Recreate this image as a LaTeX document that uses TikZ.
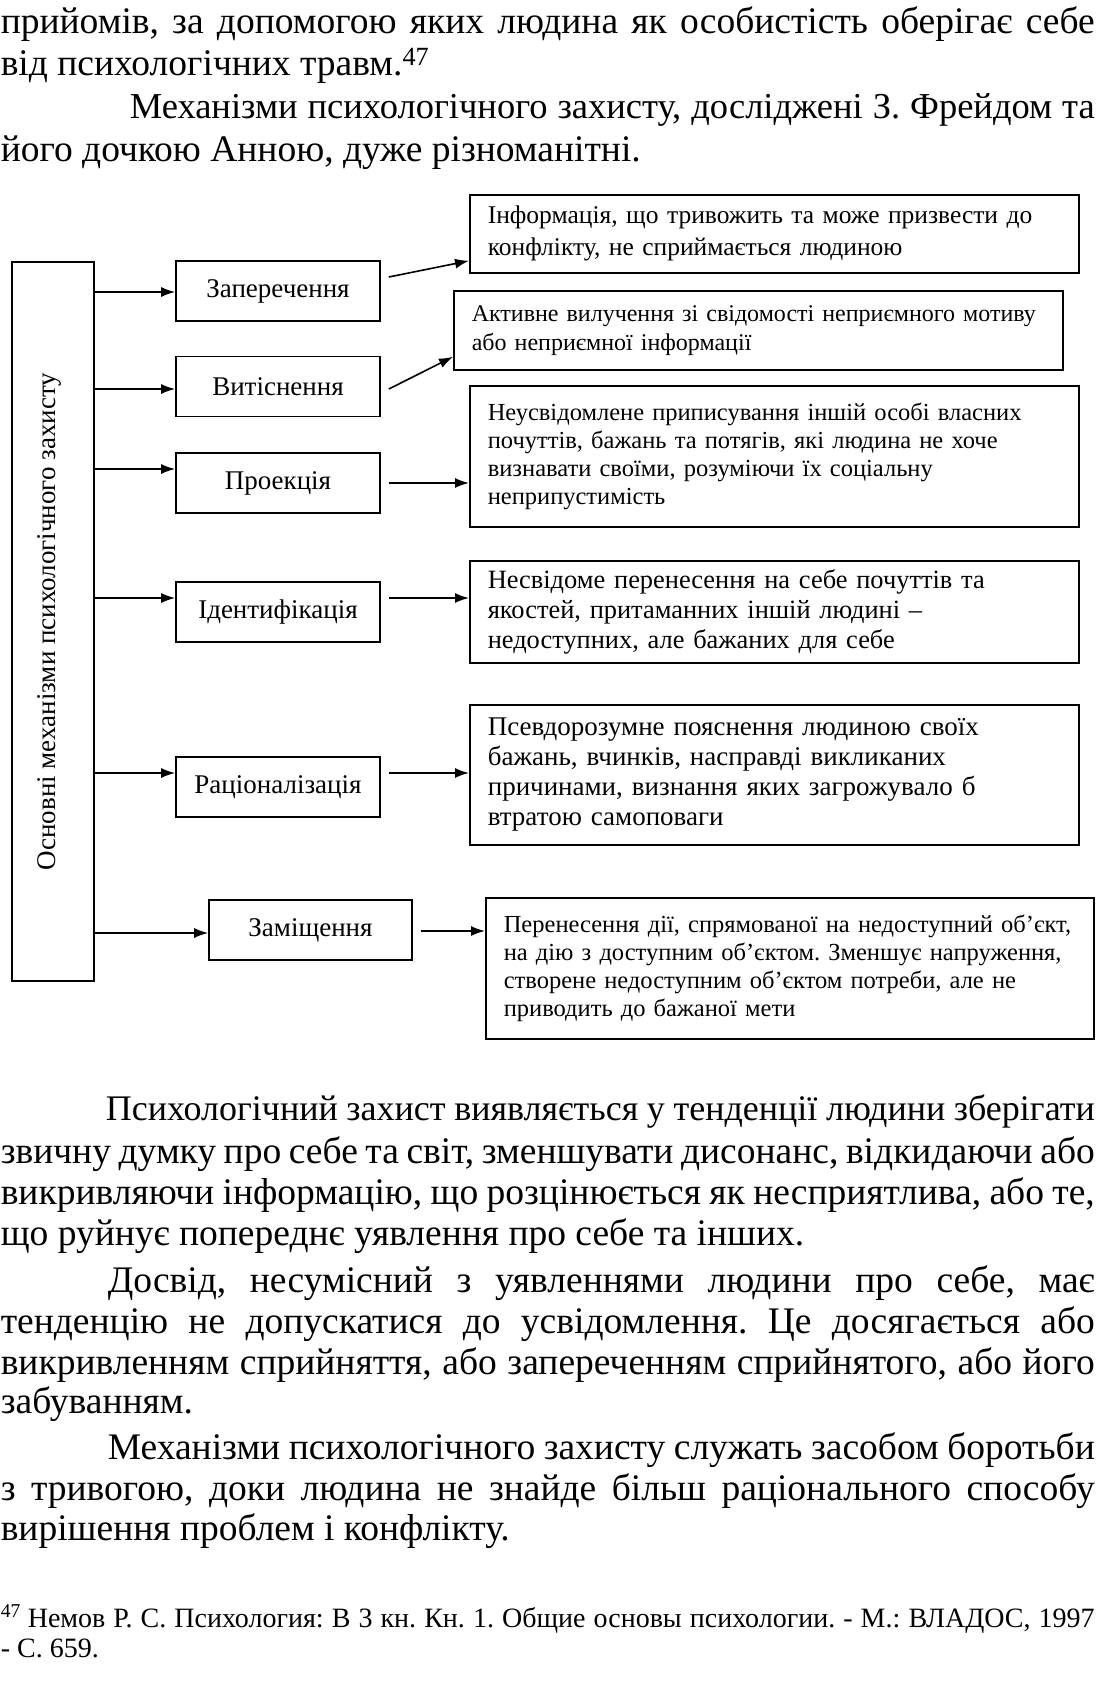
\documentclass[tikz,border=0pt]{standalone}
\usepackage{fontspec}
\setmainfont{Liberation Serif}
\usetikzlibrary{arrows.meta,positioning}
\frenchspacing

\begin{document}
\begin{tikzpicture}[x=1pt,y=-1pt,line width=1.6pt,
    ln/.style={anchor=base west,inner sep=0pt,font=\fontsize{37.5}{41.5}\selectfont},
    mech/.style={draw,minimum width=204pt,minimum height=60pt,inner sep=0pt,font=\fontsize{27}{32}\selectfont},
    desc/.style={draw,anchor=north west,align=left,inner xsep=18pt,inner ysep=0pt,minimum height=#1},
    arr/.style={-{Latex[length=14pt,width=10pt]}}]
    \useasboundingbox (0,0) rectangle (1096,1690);
    \node[ln] (t1) at (0,33) {\makebox[1094pt][s]{прийомів, за допомогою яких людина як особистість оберігає себе}};
    \node[ln] (t2) at (0,75) {від психологічних травм.\textsuperscript{47}};
    \node[ln,font=\fontsize{36.5}{41.5}\selectfont] (t3) at (129,118) {\makebox[965pt][s]{Механізми психологічного захисту, досліджені З. Фрейдом та}};
    \node[ln] (t4) at (0,161) {його дочкою Анною, дуже різноманітні.};

    \node[draw,minimum width=82pt,minimum height=719pt] (lb) at (53,621.5) {};
    \node[rotate=90,font=\fontsize{27}{32}\selectfont] (lbt) at ([xshift=-4pt]lb.center) {Основні механізми психологічного захисту};

    \node[mech] (m1) at (278,291) {Заперечення};
    \node[mech] (m2) at (278,386.5) {Витіснення};
    \node[mech] (m3) at (278,483) {Проекція};
    \node[mech] (m4) at (278,612) {Ідентифікація};
    \node[mech] (m5) at (278,787) {Раціоналізація};
    \node[mech,minimum width=203pt] (m6) at (310.5,930) {Заміщення};

    \node[desc=78pt,text width=573pt,font=\fontsize{25.5}{32}\selectfont] (d1) at (469,194)
      {Інформація, що тривожить та може призвести до\\конфлікту, не сприймається людиною};
    \node[desc=79pt,text width=573pt,font=\fontsize{24}{29}\selectfont] (d2) at (453,290)
      {Активне вилучення зі свідомості неприємного мотиву\\або неприємної інформації};
    \node[desc=141pt,text width=573pt,font=\fontsize{24.5}{28}\selectfont] (d3) at (469,385)
      {Неусвідомлене приписування іншій особі власних\\почуттів, бажань та потягів, які людина не хоче\\визнавати своїми, розуміючи їх соціальну\\неприпустимість};
    \node[desc=102pt,text width=573pt,font=\fontsize{26.4}{30}\selectfont] (d4) at (469,560)
      {Несвідоме перенесення на себе почуттів та\\якостей, притаманних іншій людині –\\недоступних, але бажаних для себе};
    \node[desc=140pt,text width=573pt,font=\fontsize{27}{30}\selectfont] (d5) at (469,704)
      {Псевдорозумне пояснення людиною своїх\\бажань, вчинків, насправді викликаних\\причинами, визнання яких загрожувало б\\втратою самоповаги};
    \node[desc=141pt,text width=572pt,font=\fontsize{24.5}{28}\selectfont] (d6) at (485,897)
      {Перенесення дії, спрямованої на недоступний об’єкт,\\на дію з доступним об’єктом. Зменшує напруження,\\створене недоступним об’єктом потреби, але не\\приводить до бажаної мети};

    \foreach \m/\k in {m1/292,m2/389,m3/469,m4/598,m5/773,m6/933}
      \draw[arr] (lb.east |- 0,\k) -- (\m.west |- 0,\k);
    \draw[arr] ([shift={(8,-14)}]m1.east) -- ([shift={(0,27)}]d1.west);
    \draw[arr] ([shift={(8,2.5)}]m2.east) -- ([shift={(0,26.5)}]d2.west);
    \foreach \m/\d/\k in {m3/d3/483,m4/d4/598,m5/d5/773,m6/d6/931}
      \draw[arr] (\m.east |- 0,\k) ++(8,0) -- (\d.west |- 0,\k);

    \node[ln,font=\fontsize{36}{41.5}\selectfont] (b1) at (105,1120) {\makebox[989pt][s]{Психологічний захист виявляється у тенденції людини зберігати}};
    \node[ln] (b2) at (0,1163) {\makebox[1094pt][s]{звичну думку про себе та світ, зменшувати дисонанс, відкидаючи або}};
    \node[ln] (b3) at (0,1204) {\makebox[1094pt][s]{викривляючи інформацію, що розцінюється як несприятлива, або те,}};
    \node[ln] (b4) at (0,1245) {що руйнує попереднє уявлення про себе та інших.};
    \node[ln] (b5) at (107,1292) {\makebox[987pt][s]{Досвід, несумісний з уявленнями людини про себе, має}};
    \node[ln] (b6) at (0,1333) {\makebox[1094pt][s]{тенденцію не допускатися до усвідомлення. Це досягається або}};
    \node[ln] (b7) at (0,1374) {\makebox[1094pt][s]{викривленням сприйняття, або запереченням сприйнятого, або його}};
    \node[ln] (b8) at (0,1413) {забуванням.};
    \node[ln] (b9) at (107,1459) {\makebox[987pt][s]{Механізми психологічного захисту служать засобом боротьби}};
    \node[ln] (b10) at (0,1500) {\makebox[1094pt][s]{з тривогою, доки людина не знайде більш раціонального способу}};
    \node[ln] (b11) at (0,1540) {вирішення проблем і конфлікту.};

    \node[ln,font=\fontsize{28}{32}\selectfont] (fn) at (0,1627) {\textsuperscript{47}};
    \node[ln,font=\fontsize{28}{32}\selectfont] (f1) at (27,1627) {\makebox[1067pt][s]{Немов Р. С. Психология: В 3 кн. Кн. 1. Общие основы психологии. - М.: ВЛАДОС, 1997}};
    \node[ln,font=\fontsize{28}{32}\selectfont] (f2) at (0,1657) {- С. 659.};
\end{tikzpicture}
\end{document}
